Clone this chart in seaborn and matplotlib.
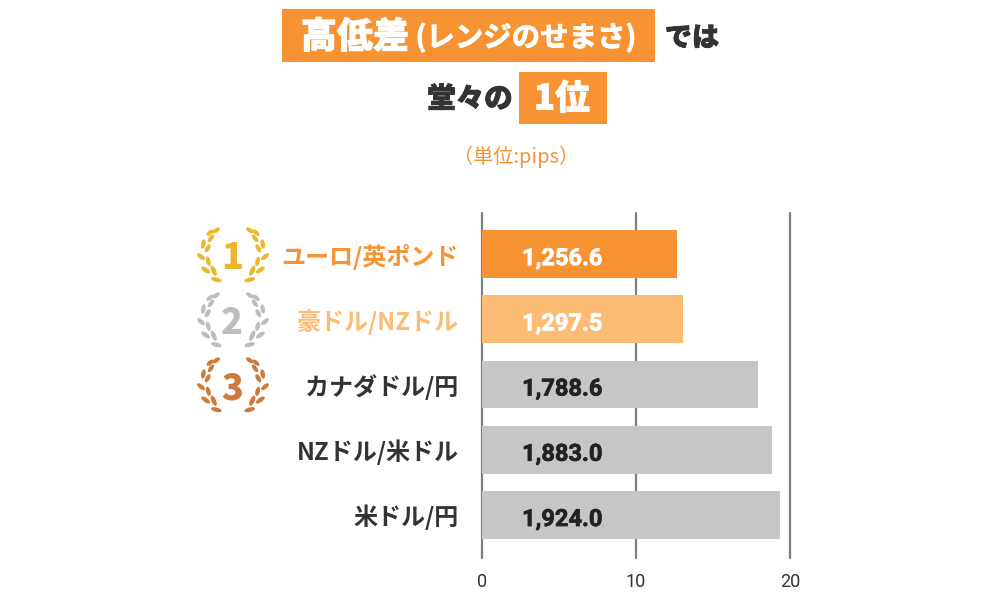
import matplotlib
matplotlib.use('Agg')
import matplotlib.pyplot as plt
import matplotlib.patheffects as pe
from matplotlib.patches import Ellipse, Rectangle
import seaborn as sns
import pandas as pd

pairs = ["ユーロ/英ポンド", "豪ドル/NZドル", "カナダドル/円", "NZドル/米ドル", "米ドル/円"]
bar_values = [12.66, 13.05, 17.9, 18.85, 19.38]
value_labels = ["1,256.6", "1,297.5", "1,788.6", "1,883.0", "1,924.0"]
bar_colors = ["#F79332", "#FCBC74", "#C6C6C6", "#C6C6C6", "#C6C6C6"]
label_colors = ["#F79332", "#FCBC74", "#333333", "#333333", "#333333"]
value_colors = ["white", "white", "#222222", "#222222", "#222222"]
x_ticks = [0, 10, 20]
ranks = ["1", "2", "3"]
rank_colors = ["#EDB72C", "#BDBDBD", "#CE7A3A"]

sns.set_theme(style="white")
plt.rcParams['font.family'] = ['Noto Sans CJK JP', 'DejaVu Sans']

ORANGE = "#F79332"
DARK = "#333333"


def heavy(color, w=0.6):
    return [pe.withStroke(linewidth=w, foreground=color)]


fig = plt.figure(figsize=(10, 6.07), dpi=100)

# overlay in pixel coords for the header and the medals
bg = fig.add_axes([0, 0, 1, 1])
bg.set_xlim(0, 1000)
bg.set_ylim(607, 0)
bg.axis("off")

bg.add_patch(Rectangle((282, 9), 373, 53, color=ORANGE, lw=0))
bg.add_patch(Rectangle((519, 72), 88, 52, color=ORANGE, lw=0))
bg.text(355, 37, "高低差", color="white", fontsize=26, weight="black", ha="center", va="center",
        path_effects=heavy("white"))
bg.text(526, 38, "(レンジのせまさ)", color="white", fontsize=20.5, weight="bold", ha="center", va="center",
        path_effects=heavy("white"))
bg.text(692, 38, "では", color=DARK, fontsize=19.5, weight="black", ha="center", va="center",
        path_effects=heavy(DARK))
bg.text(470, 99, "堂々の", color=DARK, fontsize=20.5, weight="black", ha="center", va="center",
        path_effects=heavy(DARK))
bg.text(562, 99, "1位", color="white", fontsize=25, weight="black", ha="center", va="center",
        path_effects=heavy("white"))
bg.text(516, 157, "（単位:pips）", color=ORANGE, fontsize=14.5, weight="regular", ha="center", va="center")

# laurel leaves, offset from the medal centre: dx, dy, length, thickness, angle
leaves = [(-16.7, -23.7, 8.5, 4.2, -35), (-23, -21.3, 8.5, 4.2, -40), (-22, -15.7, 9, 4.2, -55),
          (-29.7, -10, 9.5, 4.4, -80), (-25.3, -5.7, 9, 4.4, -60), (-32, 2.7, 9.5, 4.4, 40),
          (-24.7, 7.3, 9.5, 4.4, 75), (-27.3, 16, 10.5, 4.4, 35), (-19.3, 16.7, 11, 4.6, 65),
          (-16.7, 25.7, 11, 4.4, 15)]

for rank, color, cy in zip(ranks, rank_colors, [254, 319, 384]):
    for dx, dy, w, h, ang in leaves:
        bg.add_patch(Ellipse((233 + dx, cy + dy), w, h, angle=ang, color=color, lw=0))
        bg.add_patch(Ellipse((233 - dx, cy + dy), w, h, angle=-ang, color=color, lw=0))
    bg.text(232, cy + 4, rank, color=color, fontsize=26, weight="black", ha="center", va="center")

# chart
ax = fig.add_axes([482 / 1000, 1 - 558 / 607, 308 / 1000, 345 / 607])
ax.patch.set_alpha(0)
df = pd.DataFrame({"pair": pairs, "value": bar_values})
sns.barplot(data=df, y="pair", x="value", hue="pair", palette=bar_colors, legend=False,
            width=0.735, saturation=1, linewidth=0, ax=ax, zorder=3)
ax.set_xlim(0, 20)
ax.set_ylim(4.66, -0.63)
ax.set_xlabel("")
ax.set_ylabel("")
ax.set_xticks(x_ticks)
ax.grid(axis="x", color="#7F7F7F", linewidth=1.6, zorder=0, clip_on=False)
ax.grid(axis="y", visible=False)
sns.despine(ax=ax, left=True, bottom=True)
ax.tick_params(axis="y", length=0, pad=17)
ax.tick_params(axis="x", length=0, pad=10.5, labelsize=13, labelcolor=DARK)
for lab in ax.get_xticklabels():
    lab.set_family("Roboto")
for lab, color in zip(ax.get_yticklabels(), label_colors):
    lab.set_color(color)
    lab.set_fontsize(17.3)
    lab.set_fontweight("bold")
for i, (txt, color) in enumerate(zip(value_labels, value_colors)):
    ax.text(2.6, i + 0.07, txt, color=color, fontsize=17, weight="bold", family="Roboto",
            ha="left", va="center", zorder=4, path_effects=heavy(color, 0.5))

fig.savefig("out.png", dpi=100)
